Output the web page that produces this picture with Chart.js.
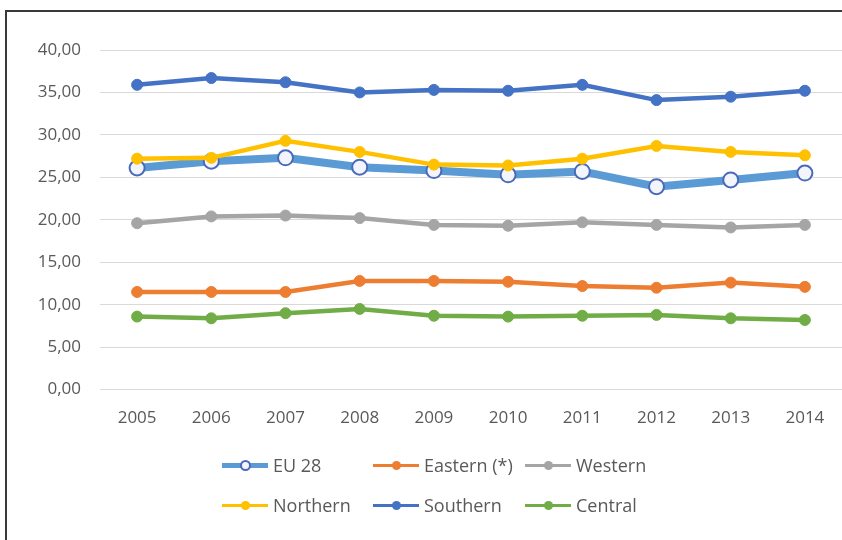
<!DOCTYPE html>
<html>
<head>
<meta charset="utf-8">
<script src="https://cdn.jsdelivr.net/npm/chart.js@4"></script>
<style>
  body { margin: 0; background: #fff; font-family: "Open Sans", sans-serif; }
  #wrap { position: relative; width: 842px; height: 540px; overflow: hidden; }
  #frame { position: absolute; left: 5px; top: 10px; width: 900px; height: 600px;
           border-left: 2px solid #3a3a3a; border-top: 2px solid #3a3a3a; }
  #box { position: absolute; left: 0; top: 0; width: 842px; height: 459px; }
  #legend { position: absolute; left: 222px; top: 445px; display: grid;
            grid-template-columns: 151px 152px 130px; grid-auto-rows: 40px;
            font-size: 18px; color: #595959; }
  .item { display: flex; align-items: center; }
  .sym { position: relative; width: 46px; height: 20px; margin-right: 5px; }
  .sym .ln { position: absolute; left: 0; right: 0; }
  .sym .dot { position: absolute; border-radius: 50%; box-sizing: border-box; }
</style>
</head>
<body>
<div id="wrap">
  <div id="frame"></div>
  <div id="box"><canvas id="chart"></canvas></div>
  <div id="legend"></div>
</div>
<script>
const years = ['2005', '2006', '2007', '2008', '2009', '2010', '2011', '2012', '2013', '2014'];
const eu28 = [26.1, 26.9, 27.3, 26.2, 25.8, 25.3, 25.7, 23.9, 24.7, 25.5];
const eastern = [11.5, 11.5, 11.5, 12.8, 12.8, 12.7, 12.2, 12.0, 12.6, 12.1];
const western = [19.6, 20.4, 20.5, 20.2, 19.4, 19.3, 19.7, 19.4, 19.1, 19.4];
const northern = [27.2, 27.3, 29.3, 28.0, 26.5, 26.4, 27.2, 28.7, 28.0, 27.6];
const southern = [35.9, 36.7, 36.2, 35.0, 35.3, 35.2, 35.9, 34.1, 34.5, 35.2];
const central = [8.6, 8.4, 9.0, 9.5, 8.7, 8.6, 8.7, 8.8, 8.4, 8.2];

function series(label, data, color, order) {
    return {
        label: label,
        data: data,
        borderColor: color,
        backgroundColor: color,
        pointBackgroundColor: color,
        pointBorderColor: color,
        borderWidth: 4.5,
        pointRadius: 5.5,
        pointBorderWidth: 1,
        order: order
    };
}

const eu = series('EU 28', eu28, '#5B9BD5', 6);
eu.borderWidth = 8;
eu.pointRadius = 7.5;
eu.pointBorderWidth = 2;
eu.pointBackgroundColor = '#F2F6FC';
eu.pointBorderColor = '#4A69BB';

const datasets = [
    eu,
    series('Eastern (*)', eastern, '#ED7D31', 5),
    series('Western', western, '#A5A5A5', 4),
    series('Northern', northern, '#FFC000', 3),
    series('Southern', southern, '#4472C4', 2),
    series('Central', central, '#70AD47', 1)
];

const ctx = document.getElementById('chart').getContext('2d');
const chart = new Chart(ctx, {
    type: 'line',
    data: { labels: years, datasets: datasets },
    options: {
        responsive: true,
        maintainAspectRatio: false,
        animation: false,
        layout: { autoPadding: false, padding: { top: 50, right: 0, bottom: 13, left: 0 } },
        plugins: { legend: { display: false }, tooltip: { enabled: false } },
        scales: {
            x: {
                offset: true,
                afterFit: function(scale) { scale.paddingLeft = 0; scale.paddingRight = 0; },
                grid: { display: false, drawTicks: false },
                border: { display: false },
                ticks: { padding: 18, color: '#595959', font: { family: 'Open Sans', size: 17 } }
            },
            y: {
                min: 0,
                max: 40,
                afterFit: function(scale) { scale.width = 100; },
                grid: { color: '#D9D9D9', lineWidth: 1, drawTicks: false },
                border: { display: false },
                ticks: {
                    stepSize: 5,
                    padding: 19,
                    color: '#595959',
                    font: { family: 'Open Sans', size: 17 },
                    callback: function(v) { return v.toFixed(2).replace('.', ','); }
                }
            }
        }
    }
});

// html legend, three per row like the original
const legend = document.getElementById('legend');
chart.data.datasets.forEach(function(ds) {
    const item = document.createElement('div');
    item.className = 'item';
    const sym = document.createElement('span');
    sym.className = 'sym';
    const lw = ds.borderWidth > 5 ? 5 : 3;
    const ln = document.createElement('span');
    ln.className = 'ln';
    ln.style.height = lw + 'px';
    ln.style.top = (10 - lw / 2) + 'px';
    ln.style.background = ds.borderColor;
    const dot = document.createElement('span');
    dot.className = 'dot';
    const d = ds.pointRadius > 6 ? 11 : 9;
    dot.style.width = d + 'px';
    dot.style.height = d + 'px';
    dot.style.left = (23 - d / 2) + 'px';
    dot.style.top = (10 - d / 2) + 'px';
    dot.style.background = ds.pointBackgroundColor;
    dot.style.border = (ds.pointRadius > 6 ? 2 : 0) + 'px solid ' + ds.pointBorderColor;
    sym.appendChild(ln);
    sym.appendChild(dot);
    const txt = document.createElement('span');
    txt.textContent = ds.label;
    item.appendChild(sym);
    item.appendChild(txt);
    legend.appendChild(item);
});
</script>
</body>
</html>
